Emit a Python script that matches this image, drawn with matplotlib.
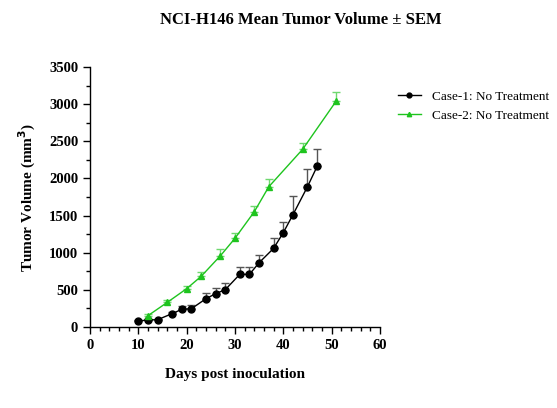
import matplotlib
matplotlib.use("Agg")
import matplotlib.pyplot as plt
from matplotlib.ticker import MultipleLocator

plt.rcParams['font.family'] = ['Liberation Serif', 'DejaVu Serif']

days1 = [10, 12, 14, 17, 19, 21, 24, 26, 28, 31, 33, 35, 38, 40, 42, 45, 47]
vol1 = [81, 94, 99, 180, 238, 247, 381, 449, 503, 709, 709, 866, 1059, 1270, 1512, 1888, 2162]
sem1 = [10, 10, 10, 25, 50, 45, 72, 70, 85, 100, 100, 100, 135, 147, 255, 240, 240]

days2 = [12, 16, 20, 23, 27, 30, 34, 37, 44, 51]
vol2 = [153, 332, 516, 682, 960, 1194, 1552, 1888, 2392, 3046]
sem2 = [20, 30, 40, 55, 90, 76, 80, 100, 90, 112]

label1 = "Case-1: No Treatment"
label2 = "Case-2: No Treatment"

fig = plt.figure(figsize=(5.57, 4.08), dpi=100)
ax = fig.add_axes([0.1616, 0.1985, 0.5205, 0.6373])

c1 = "black"
c2 = "#1ec41e"

ax.errorbar(days1, vol1, yerr=[[0]*len(sem1), sem1], fmt='none', ecolor='#555555',
            elinewidth=1.0, capsize=3, capthick=1.0)
ax.errorbar(days2, vol2, yerr=[[0]*len(sem2), sem2], fmt='none', ecolor='#6fd86f',
            elinewidth=1.0, capsize=3, capthick=1.0)
ax.plot(days1, vol1, '-o', color=c1, lw=1.0, ms=5, label=label1)
ax.plot(days2, vol2, '-^', color=c2, lw=1.0, ms=4.5, label=label2)

ax.set_xlim(0, 60)
ax.set_ylim(0, 3500)
ax.xaxis.set_major_locator(MultipleLocator(10))
ax.xaxis.set_minor_locator(MultipleLocator(2))
ax.yaxis.set_major_locator(MultipleLocator(500))
ax.yaxis.set_minor_locator(MultipleLocator(250))
for s in ['top', 'right']:
    ax.spines[s].set_visible(False)
for s in ['left', 'bottom']:
    ax.spines[s].set_linewidth(1.0)
ax.tick_params(which='major', length=5, width=1.0, labelsize=10.5)
ax.tick_params(which='minor', length=3, width=1.0)
for lab in ax.get_xticklabels() + ax.get_yticklabels():
    lab.set_fontweight('bold')

ax.set_xlabel("Days post inoculation", fontsize=11, fontweight='bold', labelpad=12)
ax.set_ylabel("Tumor Volume (mm$\\mathbf{^3}$)", fontsize=11, fontweight='bold', labelpad=8)
fig.suptitle("NCI-H146 Mean Tumor Volume ± SEM", x=0.54, y=0.97, fontsize=12, fontweight='bold')

ax.legend(loc='upper left', bbox_to_anchor=(1.02, 0.955), frameon=False, fontsize=9.5,
          handlelength=1.8, markerscale=0.7)

fig.savefig("out.png", dpi=100)
